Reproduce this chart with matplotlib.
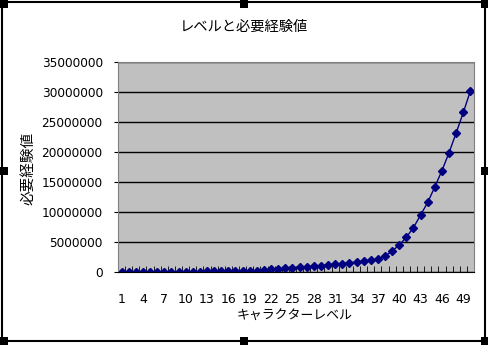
import matplotlib
matplotlib.use("Agg")
import matplotlib.pyplot as plt
from matplotlib.patches import Rectangle

plt.rcParams['font.family'] = ['DejaVu Sans', 'Noto Sans CJK JP']

# --- データ ---
levels = list(range(1, 51))
exp_needed = [
    0, 2000, 5000, 9000, 14000, 20000, 27000, 35000, 44000, 54000,
    65000, 77000, 90000, 104000, 119000, 135000, 150000, 165000, 180000, 250000,
    330000, 420000, 510000, 600000, 700000, 790000, 880000, 970000, 1080000, 1180000,
    1290000, 1400000, 1530000, 1660000, 1800000, 1950000, 2150000, 2650000, 3500000, 4500000,
    5800000, 7400000, 9500000, 11600000, 14200000, 16900000, 19900000, 23200000, 26600000, 30200000,
]
yticks = list(range(0, 35000001, 5000000))
xtick_levels = list(range(1, 51, 3))

W, H = 488, 345
fig = plt.figure(figsize=(W / 100, H / 100), dpi=100)
fig.patch.set_facecolor("white")

# プロットエリア
ax = fig.add_axes([118 / W, 1 - 272 / H, 356 / W, 210 / H])
ax.set_facecolor("#C0C0C0")
ax.plot(levels, exp_needed, color="#000080", lw=1, marker="D", markersize=4.5,
        markerfacecolor="#000080", markeredgecolor="#000080")

ax.set_xlim(0.5, 50.5)
ax.set_ylim(0, 35000000)
ax.set_yticks(yticks)
ax.set_yticklabels([str(v) for v in yticks], fontsize=8.7)
ax.yaxis.grid(True, color="black", lw=1)
ax.set_axisbelow(True)

ax.set_xticks(xtick_levels)
ax.set_xticklabels([str(v) for v in xtick_levels], fontsize=9)
ax.set_xticks([i + 0.5 for i in range(0, 51)], minor=True)
ax.tick_params(axis="x", which="major", length=0, pad=15)
ax.tick_params(axis="x", which="minor", direction="in", length=4, color="black")
ax.tick_params(axis="y", length=3, pad=8, color="black")

for s in ["top", "right", "left"]:
    ax.spines[s].set_color("#808080")
ax.spines["bottom"].set_color("black")

# タイトル・軸ラベル
fig.text(244 / W, 1 - 27 / H, "レベルと必要経験値", ha="center", va="center", fontsize=10.3)
fig.text(295 / W, 1 - 316 / H, "キャラクターレベル", ha="center", va="center", fontsize=9.3)
fig.text(28 / W, 1 - 168 / H, "必要経験値", ha="center", va="center", fontsize=10.5,
         rotation=90)

# グラフの枠と選択ハンドル
fig.add_artist(Rectangle((2 / W, 1 - 341 / H), 483 / W, 339 / H, transform=fig.transFigure,
                         fill=False, edgecolor="black", lw=1.5))
for hx, hy in [(0, 0), (240, 0), (481, 0), (0, 167), (481, 167), (0, 337), (240, 337), (481, 337)]:
    fig.add_artist(Rectangle((hx / W, 1 - (hy + 8) / H), 8 / W, 8 / H, transform=fig.transFigure,
                             facecolor="black", edgecolor="none"))

fig.savefig("out.png", dpi=100)
